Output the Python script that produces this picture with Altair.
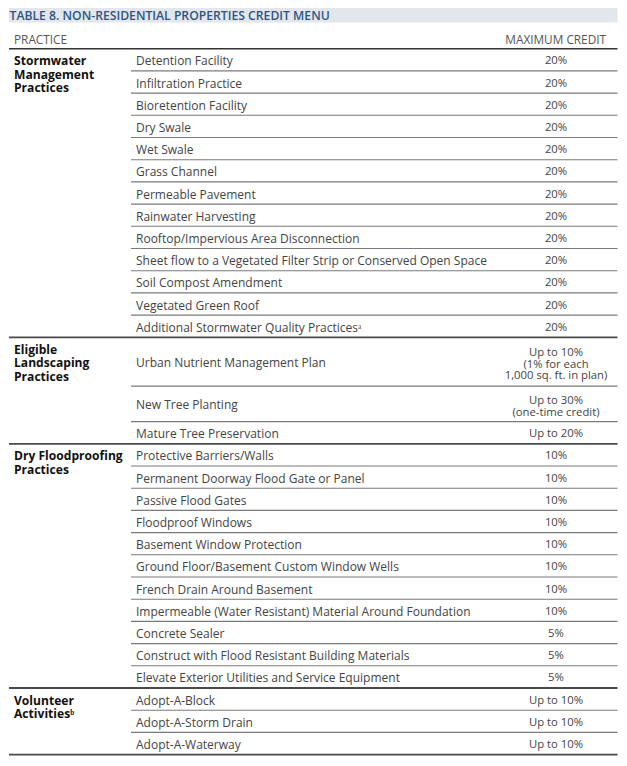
import altair as alt
import pandas as pd

# ---------------- data ----------------
title_text = "TABLE 8. NON-RESIDENTIAL PROPERTIES CREDIT MENU"
header_practice = "PRACTICE"
header_credit = "MAXIMUM CREDIT"

groups = [
    "Stormwater\nManagement\nPractices",
    "Eligible\nLandscaping\nPractices",
    "Dry Floodproofing\nPractices",
    "Volunteer\nActivitiesᵇ",
]

stormwater_practices = [
    "Detention Facility", "Infiltration Practice", "Bioretention Facility",
    "Dry Swale", "Wet Swale", "Grass Channel", "Permeable Pavement",
    "Rainwater Harvesting", "Rooftop/Impervious Area Disconnection",
    "Sheet flow to a Vegetated Filter Strip or Conserved Open Space",
    "Soil Compost Amendment", "Vegetated Green Roof",
    "Additional Stormwater Quality Practicesᵃ",
]
stormwater_credits = ["20%"] * 13

landscaping_practices = [
    "Urban Nutrient Management Plan", "New Tree Planting", "Mature Tree Preservation",
]
landscaping_credits = [
    "Up to 10%\n(1% for each\n1,000 sq. ft. in plan)",
    "Up to 30%\n(one-time credit)",
    "Up to 20%",
]

floodproofing_practices = [
    "Protective Barriers/Walls", "Permanent Doorway Flood Gate or Panel",
    "Passive Flood Gates", "Floodproof Windows", "Basement Window Protection",
    "Ground Floor/Basement Custom Window Wells", "French Drain Around Basement",
    "Impermeable (Water Resistant) Material Around Foundation", "Concrete Sealer",
    "Construct with Flood Resistant Building Materials",
    "Elevate Exterior Utilities and Service Equipment",
]
floodproofing_credits = ["10%"] * 8 + ["5%"] * 3

volunteer_practices = ["Adopt-A-Block", "Adopt-A-Storm Drain", "Adopt-A-Waterway"]
volunteer_credits = ["Up to 10%"] * 3

group_practices = [stormwater_practices, landscaping_practices,
                   floodproofing_practices, volunteer_practices]
group_credits = [stormwater_credits, landscaping_credits,
                 floodproofing_credits, volunteer_credits]

# ---------------- layout (page pixel units) ----------------
FONT = "Open Sans"
LEFT, RIGHT = 9, 617.5
COL_GROUP_X, COL_PRACTICE_X, COL_CREDIT_X = 14, 136, 556
ROW_LINE_X = 131
HEADER_BOTTOM = 46.7
BASE_H, EXTRA_H = 22.2, 13.3
GROUP_LH = 13.6
CREDIT_LH = 11.8

W, H = 611, 748
xs = alt.Scale(domain=[8, 8 + W])
ys = alt.Scale(domain=[8, 8 + H], reverse=True)

rows, glabels, lines = [], [], []
top = HEADER_BOTTOM
for g, prs, crs in zip(groups, group_practices, group_credits):
    gtop = top
    glabels.append({"text": g, "y": gtop + 12.5})
    for i, (p, c) in enumerate(zip(prs, crs)):
        n = c.count("\n") + 1
        h = BASE_H + (n - 1) * EXTRA_H
        bottom = top + h
        mid = (top + bottom) / 2 + 1.5
        rows.append({"practice": p, "credit": c, "y": mid,
                     "cy": mid + 1.5 - (n - 1) * CREDIT_LH / 2 if n > 1 else mid})
        last = i == len(prs) - 1
        lines.append({
            "x": LEFT if last else ROW_LINE_X, "x2": RIGHT, "y": bottom,
            "color": "#4a4a4a" if last else "#7a7a7a",
            "w": 1.8 if last else 1.1,
        })
        top = bottom

rows_df = pd.DataFrame(rows)
glabel_df = pd.DataFrame(glabels)
lines_df = pd.DataFrame(lines + [
    {"x": LEFT, "x2": RIGHT, "y": HEADER_BOTTOM, "color": "#333333", "w": 1.6}
])

base = alt.Chart(rows_df)

title_bar = alt.Chart(pd.DataFrame([{"x": LEFT, "x2": RIGHT, "y": 6, "y2": 20.5}])).mark_rect(
    color="#e3e6ea"
).encode(
    x=alt.X("x:Q", scale=xs, axis=None), x2="x2:Q",
    y=alt.Y("y:Q", scale=ys, axis=None), y2="y2:Q",
)

title = alt.Chart(pd.DataFrame([{"t": title_text, "x": 9.5, "y": 13.5}])).mark_text(
    align="left", baseline="middle", font=FONT, fontSize=12.2, fontWeight=600, color="#2d5687"
).encode(x=alt.X("x:Q", scale=xs, axis=None), y=alt.Y("y:Q", scale=ys, axis=None), text="t:N")

headers = alt.Chart(pd.DataFrame([
    {"t": header_practice, "x": COL_GROUP_X, "y": 37.5},
])).mark_text(
    align="left", baseline="middle", font=FONT, fontSize=11.8, color="#555555"
).encode(x=alt.X("x:Q", scale=xs, axis=None), y=alt.Y("y:Q", scale=ys, axis=None), text="t:N")

header_r = alt.Chart(pd.DataFrame([
    {"t": header_credit, "x": 606, "y": 37.5},
])).mark_text(
    align="right", baseline="middle", font=FONT, fontSize=11.8, color="#555555"
).encode(x=alt.X("x:Q", scale=xs, axis=None), y=alt.Y("y:Q", scale=ys, axis=None), text="t:N")

rules = alt.Chart(lines_df).mark_rule().encode(
    x=alt.X("x:Q", scale=xs, axis=None), x2="x2:Q",
    y=alt.Y("y:Q", scale=ys, axis=None),
    color=alt.Color("color:N", scale=None),
    strokeWidth=alt.StrokeWidth("w:Q", scale=None),
)

practice_text = base.mark_text(
    align="left", baseline="middle", font=FONT, fontSize=12, color="#444444"
).encode(
    x=alt.X("px:Q", scale=xs, axis=None),
    y=alt.Y("y:Q", scale=ys, axis=None),
    text="practice:N",
).transform_calculate(px=str(COL_PRACTICE_X))

credit_text = base.mark_text(
    align="center", baseline="middle", font=FONT, fontSize=11.3, color="#444444",
    lineBreak="\n", lineHeight=CREDIT_LH,
).encode(
    x=alt.X("cx:Q", scale=xs, axis=None),
    y=alt.Y("cy:Q", scale=ys, axis=None),
    text="credit:N",
).transform_calculate(cx=str(COL_CREDIT_X))

group_text = alt.Chart(glabel_df).mark_text(
    align="left", baseline="middle", font=FONT, fontSize=12.1, fontWeight="bold",
    color="#111111", lineBreak="\n", lineHeight=GROUP_LH,
).encode(
    x=alt.X("gx:Q", scale=xs, axis=None),
    y=alt.Y("y:Q", scale=ys, axis=None),
    text="text:N",
).transform_calculate(gx=str(COL_GROUP_X))

chart = alt.layer(
    title_bar, title, headers, header_r, rules, practice_text, credit_text, group_text
).properties(width=W, height=H, padding=0).configure_view(stroke=None)

chart.save("out.html", embed_options={"renderer": "svg", "actions": False})
